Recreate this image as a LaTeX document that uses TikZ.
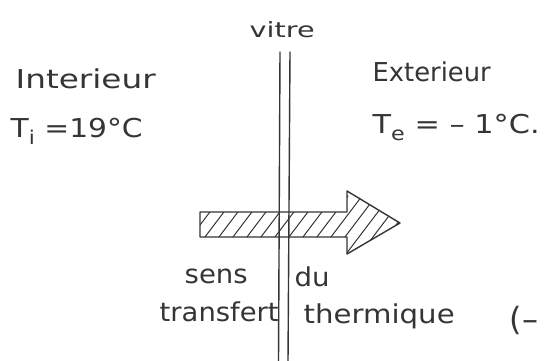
\documentclass[tikz,border=0pt]{standalone}
\usepackage{fontspec}
\setmainfont{DejaVu Sans}
\definecolor{ink}{HTML}{353535}
\newcommand{\hwsub}[1]{\raisebox{-7pt}{\fontsize{19}{19}\selectfont #1}}
\begin{document}
\begin{tikzpicture}[x=1pt,y=-1pt,line width=1.4pt,
  inkline/.style={draw=ink,line cap=round,line join=round},
  lbl/.style={font=\fontsize{26}{28}\selectfont,text=ink,inner sep=0pt,anchor=base west},
  small/.style={lbl,font=\fontsize{21}{23}\selectfont},
  hatch/.style={draw=ink,line width=1pt,line cap=round}]
\useasboundingbox (0,0) rectangle (544,360);
\fill[white] (0,0) rectangle (544,360);

% heat-flow arrow (hatched)
\coordinate (a1) at (200,212);
\coordinate (a2) at (347,212);
\coordinate (a3) at (347,191);
\coordinate (tip) at (400,223);
\coordinate (a5) at (347,254);
\coordinate (a6) at (347,237);
\coordinate (a7) at (200,237);
\begin{scope}
  \clip (a1) -- (a2) -- (a3) -- (tip) -- (a5) -- (a6) -- (a7) -- cycle;
  \foreach \i in {0,...,17} {
    \draw[hatch] (172+\i*14,262) -- ++(50,-66);
  }
\end{scope}
\draw[inkline] (a1) -- (a2) -- (a3) -- (tip) -- (a5) -- (a6) -- (a7) -- cycle;

% window glass (vitre)
\coordinate (g1t) at (280,52);
\coordinate (g1b) at (278.5,362);
\coordinate (g2t) at (290,52);
\coordinate (g2b) at (288,362);
\draw[inkline] (g1t) -- (g1b);
\draw[inkline] (g2t) -- (g2b);

% labels
\node[small] (vitre) at (249,37) {\resizebox{65pt}{\height}{vitre}};
\node[lbl] (int) at (15,88) {\resizebox{140pt}{\height}{Interieur}};
\node[lbl] (ti) at (10,137) {\resizebox{132pt}{\height}{T\hwsub{i} =19°C}};
\node[lbl] (ext) at (372,81) {\resizebox{118pt}{\height}{Exterieur}};
\node[lbl] (te) at (372,133) {\resizebox{167pt}{\height}{T\hwsub{e} = – 1°C.}};
\node[lbl] (sens) at (184,283) {\resizebox{63pt}{\height}{sens}};
\node[lbl] (du) at (294,286) {\resizebox{35pt}{\height}{du}};
\node[lbl] (transf) at (159,321) {\resizebox{119pt}{\height}{transfert}};
\node[lbl] (therm) at (303,323) {\resizebox{151pt}{\height}{thermique}};
\node[lbl,font=\fontsize{32}{34}\selectfont] (paren) at (509,330) {(–};
\end{tikzpicture}
\end{document}
